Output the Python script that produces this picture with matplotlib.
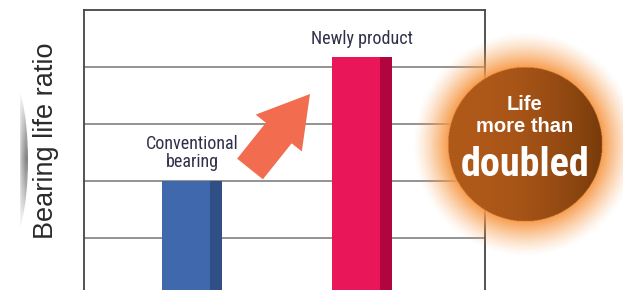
import numpy as np
import matplotlib
matplotlib.use('Agg')
import matplotlib.pyplot as plt
from matplotlib.patches import FancyArrow, Ellipse

# ==================== 数据 ====================
categories = ['Conventional\nbearing', 'Newly product']
life_ratio = [2.0, 4.17]
grid_levels = [1, 2, 3, 4]
badge_lines = ['Life', 'more than', 'doubled']

W, H = 623, 290
COND = ['Roboto Condensed', 'Liberation Sans', 'DejaVu Sans']

fig = plt.figure(figsize=(W / 100, H / 100), dpi=100)
fig.patch.set_facecolor('white')


def px(x, y):
    """像素坐标(左上原点) -> figure坐标"""
    return x / W, 1 - y / H


# ==================== 主坐标轴 ====================
ax = fig.add_axes([84 / W, -5 / H, 401 / W, 285 / H])
ax.set_xlim(-0.635, 1.724)
ax.set_ylim(0, 5)

for lv in grid_levels:
    ax.axhline(lv, color='#8a8a8a', linewidth=1.3, zorder=1)

bar_w = 0.353
strip = 0.0706
main_col = ['#4068ad', '#ea165a']
dark_col = ['#2f4f86', '#b0053f']
xs = np.arange(len(categories))
ax.bar(xs - bar_w / 2, life_ratio, width=bar_w - strip, align='edge',
       color=main_col, zorder=2)
ax.bar(xs - bar_w / 2 + bar_w - strip, life_ratio, width=strip, align='edge',
       color=dark_col, zorder=2)

for i, (lab, v) in enumerate(zip(categories, life_ratio)):
    ax.text(i, v + 0.17, lab, ha='center', va='bottom', fontsize=13,
            color='#30304a', family=COND, linespacing=1.0, zorder=3)

for s in ['left', 'top', 'right']:
    ax.spines[s].set_color('#444444')
    ax.spines[s].set_linewidth(1.3)
ax.spines['bottom'].set_visible(False)
ax.set_xticks([])
ax.set_yticks([])

fig.text(*px(46, 141), 'Bearing life ratio', rotation=90, ha='center',
         va='center', fontsize=19.5, color='#2a2a2a', family='Liberation Sans')

# ==================== 覆盖层（箭头、徽章） ====================
ov = fig.add_axes([0, 0, 1, 1])
ov.set_xlim(0, W)
ov.set_ylim(H, 0)
ov.set_axis_off()

# 左侧灰色残影
gx, gy = np.meshgrid(np.linspace(0, 30, 60), np.linspace(75, 245, 170))
shade = np.clip((gx - 17) / 9, 0, 1) * np.clip(1 - np.abs(gy - 158) / 60, 0, 1) ** 0.7
shade = 0.1 + 0.9 * shade
img = np.ones(gx.shape + (4,))
img[..., :3] = 1 - 0.48 * shade[..., None]
im = ov.imshow(img, extent=(0, 30, 245, 75), zorder=1, interpolation='bilinear')
el = Ellipse((8, 160), 40, 170, transform=ov.transData, facecolor='none',
             edgecolor='none')
ov.add_patch(el)
im.set_clip_path(el)
ov.axvspan(0, 19, color='white', zorder=1.5)

# 箭头
arrow = FancyArrow(250, 169, 60, -75, width=33, head_width=59,
                   head_length=50, length_includes_head=True,
                   color='#f26d4f', linewidth=0, zorder=3)
ov.add_patch(arrow)

# 发光圆形徽章
cx, cy, r0, rg = 525, 144, 77, 112
x0, x1, y0, y1 = cx - rg, W, cy - rg, cy + rg
xx, yy = np.meshgrid(np.arange(x0, x1, 0.5), np.arange(y0, y1, 0.5))
rr = np.hypot(xx - cx, yy - cy)
rgba = np.zeros(xx.shape + (4,))
glow_a = 0.95 * np.clip((rg - rr) / (rg - r0), 0, 1) ** 1.3
rgba[..., 0] = 0.97
rgba[..., 1] = 0.60
rgba[..., 2] = 0.28
rgba[..., 3] = glow_a
inside = rr <= r0
t = np.clip((xx - (cx - r0)) / (2 * r0), 0, 1)
left_c = np.array([0.69, 0.35, 0.10])
right_c = np.array([0.47, 0.23, 0.04])
tt = t ** 2.2
disk = left_c[None, None, :] * (1 - tt[..., None]) + right_c[None, None, :] * tt[..., None]
rgba[inside, :3] = disk[inside]
rgba[inside, 3] = 1
ov.imshow(rgba, extent=(x0, x1, y1, y0), zorder=4, interpolation='bilinear')

ov.text(cx, 104, badge_lines[0], ha='center', va='center', fontsize=14.5,
        fontweight='bold', color='white', family='Liberation Sans', zorder=5)
ov.text(cx, 126, badge_lines[1], ha='center', va='center', fontsize=14.5,
        fontweight='bold', color='white', family='Liberation Sans', zorder=5)
ov.text(cx, 165, badge_lines[2], ha='center', va='center', fontsize=29,
        fontweight='bold', color='white', family=COND, zorder=5)

ov.set_xlim(0, W)
ov.set_ylim(H, 0)

fig.savefig('out.png', dpi=100)
